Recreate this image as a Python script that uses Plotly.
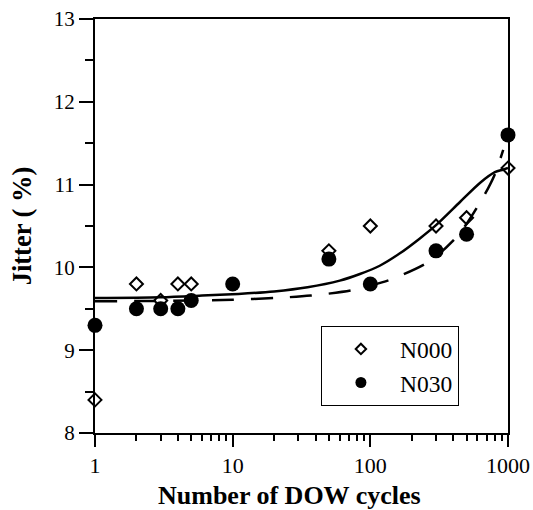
import plotly.graph_objects as go

# Measured jitter values
cycles_n000 = [1, 2, 3, 4, 5, 50, 100, 300, 500, 1000]
jitter_n000 = [8.4, 9.8, 9.6, 9.8, 9.8, 10.2, 10.5, 10.5, 10.6, 11.2]

cycles_n030 = [1, 2, 3, 4, 5, 10, 50, 100, 300, 500, 1000]
jitter_n030 = [9.3, 9.5, 9.5, 9.5, 9.6, 9.8, 10.1, 9.8, 10.2, 10.4, 11.6]

# Fitted trend curves
fit_n000_x = [1, 3, 6, 11, 20, 35, 60, 84, 117, 164, 229, 300, 448, 625, 803, 920, 1000]
fit_n000_y = [9.63, 9.64, 9.66, 9.68, 9.71, 9.76, 9.84, 9.92, 10.02, 10.17, 10.35, 10.51, 10.79, 11.02, 11.15, 11.18, 11.2]

fit_n030_x = [1, 5, 10, 20, 37, 72, 100, 144, 267, 440, 661, 800, 923]
fit_n030_y = [9.59, 9.60, 9.61, 9.63, 9.66, 9.72, 9.78, 9.86, 10.07, 10.40, 10.85, 11.12, 11.42]

x_ticks = [1, 10, 100, 1000]
x_tick_labels = ["1", "10", "100", "1000"]
x_minor = [2, 3, 4, 5, 6, 7, 8, 9, 20, 30, 40, 50, 60, 70, 80, 90,
           200, 300, 400, 500, 600, 700, 800, 900]
y_ticks = [8, 9, 10, 11, 12, 13]

FONT = "Liberation Serif"

fig = go.Figure()

fig.add_trace(go.Scatter(
    x=fit_n000_x, y=fit_n000_y, mode="lines",
    line=dict(color="black", width=2.5, shape="spline", smoothing=0.8),
    showlegend=False, hoverinfo="skip"))
fig.add_trace(go.Scatter(
    x=fit_n030_x, y=fit_n030_y, mode="lines",
    line=dict(color="black", width=2.5, dash="22px,17px", shape="spline", smoothing=0.8),
    showlegend=False, hoverinfo="skip"))

fig.add_trace(go.Scatter(
    x=cycles_n000, y=jitter_n000, mode="markers", cliponaxis=False,
    marker=dict(symbol="diamond-open", size=10, color="black", line=dict(width=2)),
    showlegend=False))
fig.add_trace(go.Scatter(
    x=cycles_n030, y=jitter_n030, mode="markers", cliponaxis=False,
    marker=dict(symbol="circle", size=15, color="black", line=dict(width=0)),
    showlegend=False))

# Legend entries with smaller symbols
fig.add_trace(go.Scatter(
    x=[None], y=[None], mode="markers", name="N000",
    marker=dict(symbol="diamond-open", size=8, color="black", line=dict(width=2))))
fig.add_trace(go.Scatter(
    x=[None], y=[None], mode="markers", name="N030",
    marker=dict(symbol="circle", size=11, color="black")))

fig.update_layout(
    width=533, height=510,
    margin=dict(l=95, r=25, t=19, b=77, autoexpand=False),
    paper_bgcolor="white", plot_bgcolor="white",
    font=dict(family=FONT, color="black", size=22),
    legend=dict(
        x=0.547, y=0.258, xanchor="left", yanchor="top",
        bordercolor="black", borderwidth=1, bgcolor="white",
        font=dict(family=FONT, size=23.5, color="black"),
        itemwidth=68, tracegroupgap=0,
    ),
    annotations=[dict(
        text="<b>Number of DOW cycles</b>", xref="paper", yref="paper",
        x=0.472, y=0, xanchor="center", yanchor="top", yshift=-46,
        showarrow=False, font=dict(family=FONT, size=26, color="black"),
    )],
)

fig.update_xaxes(
    type="log", range=[0, 3], automargin=False,
    tickmode="array", tickvals=x_ticks, ticktext=x_tick_labels,
    ticks="outside", ticklen=12, tickwidth=2, tickcolor="black",
    minor=dict(tickmode="array", tickvals=x_minor, ticks="outside",
               ticklen=6, tickwidth=2, tickcolor="black", showgrid=False),
    showline=True, linewidth=2, linecolor="black", mirror=True,
    showgrid=False, zeroline=False,
    tickfont=dict(family=FONT, size=22),
)

fig.update_yaxes(
    range=[8, 13], automargin=False,
    tickmode="array", tickvals=y_ticks,
    ticks="outside", ticklen=14, tickwidth=2, tickcolor="black",
    minor=dict(dtick=0.5, ticks="outside", ticklen=8, tickwidth=2,
               tickcolor="black", showgrid=False),
    showline=True, linewidth=2, linecolor="black", mirror=True,
    showgrid=False, zeroline=False,
    tickfont=dict(family=FONT, size=21),
    title=dict(text="<b>Jitter ( %)</b>", font=dict(family=FONT, size=26.5), standoff=15),
)

fig.write_html("out.html")
